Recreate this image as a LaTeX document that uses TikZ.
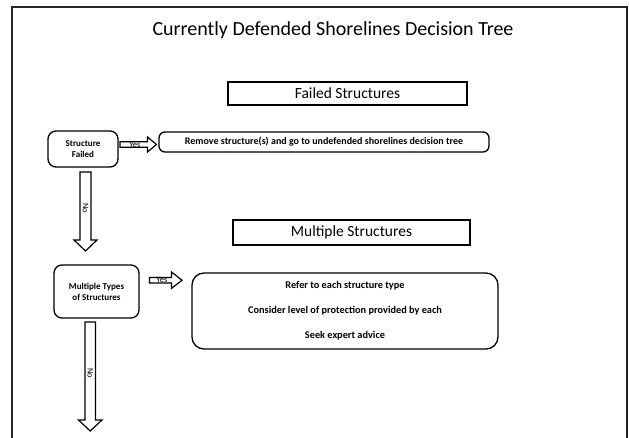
\documentclass[tikz,border=0pt]{standalone}
\usepackage{fontspec}
\setmainfont{Carlito}
\begin{document}
\begin{tikzpicture}[x=1pt,y=-1pt,
  titlebox/.style={draw, line width=1.3pt, minimum width=239pt, minimum height=23pt, inner sep=0pt, font=\fontsize{15.5}{17}\selectfont},
  decbox/.style={draw, line width=1.3pt, rounded corners=8pt, inner sep=0pt, align=center, font=\fontsize{9}{11}\selectfont\bfseries},
  blockarrow/.style={draw, line width=1.2pt, fill=white},
  smalllabel/.style={font=\fontsize{8.5}{8.5}\selectfont, inner sep=0pt}
]
\useasboundingbox (0,0) rectangle (629,437);
\begin{scope}
\clip (0,0) rectangle (629,437);
\draw[line width=2.4pt, draw=black!85] (12,7) rectangle (627,460);
\end{scope}

\node[font=\fontsize{20}{22}\selectfont] (title) at (333,30) {Currently Defended Shorelines Decision Tree};

\node[titlebox] (failed) at (347.5,93.5) {Failed Structures};
\node[titlebox, minimum width=237pt, minimum height=25pt] (multiple) at (351.5,232.5) {Multiple Structures};

\node[decbox, minimum width=70pt, minimum height=36pt] (sf) at (83,149) {Structure\\Failed};
\node[decbox, minimum width=330pt, minimum height=20pt, rounded corners=6pt, font=\fontsize{10}{12}\selectfont\bfseries] (remove) at (324,142) {Remove structure(s) and go to undefended shorelines decision tree};

\node[decbox, minimum width=85pt, minimum height=53pt] (mt) at (96.5,291.5) {Multiple Types\\of Structures};
\node[decbox, minimum width=306pt, minimum height=76pt, rounded corners=12pt, font=\fontsize{10.3}{25}\selectfont\bfseries] (refer) at (345,311) {Refer to each structure type\\Consider level of protection provided by each\\Seek expert advice};

% Yes arrow 1
\draw[blockarrow] (120,141.7) -- (147.5,141.7) -- (147.5,137) -- (156.5,144.5) -- (147.5,152) -- (147.5,147.3) -- (120,147.3) -- cycle;
\node[smalllabel] (yes1) at (135,144.5) {Yes};

% Yes arrow 2
\draw[blockarrow] (149.5,277.5) -- (171.5,277.5) -- (171.5,272) -- (182,280.2) -- (171.5,288.4) -- (171.5,283) -- (149.5,283) -- cycle;
\node[smalllabel] (yes2) at (162,280.2) {Yes};

% No arrow 1
\draw[blockarrow] (80,172) -- (91,172) -- (91,240) -- (97,240) -- (85.5,251) -- (74,240) -- (80,240) -- cycle;
\node[smalllabel, rotate=-90] (no1) at (85.5,208) {No};

% No arrow 2
\draw[blockarrow] (85,322) -- (95.5,322) -- (95.5,420) -- (102,420) -- (90.2,431) -- (78.5,420) -- (85,420) -- cycle;
\node[smalllabel, rotate=-90] (no2) at (90.2,373) {No};
\end{tikzpicture}
\end{document}
